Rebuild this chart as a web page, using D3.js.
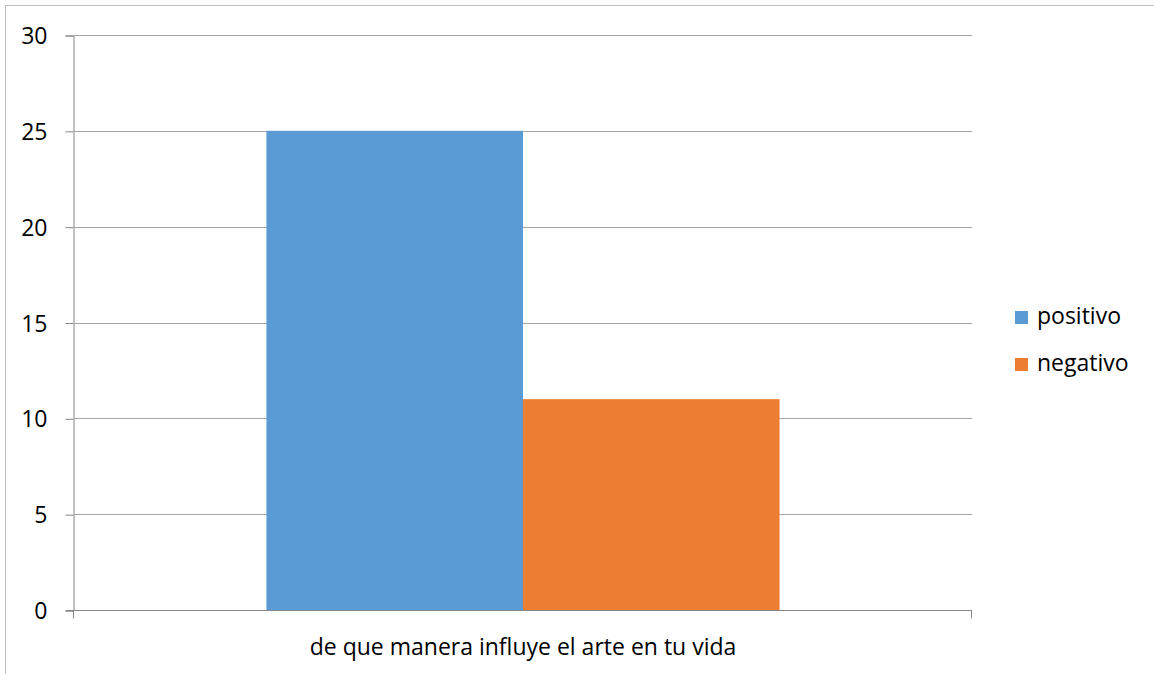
<!DOCTYPE html>
<html>
<head>
<meta charset="utf-8">
<script src="https://cdn.jsdelivr.net/npm/d3@7"></script>
<style>
	body { margin: 0; background: #fff; }
	svg text { font-family: "Open Sans", "Noto Sans", sans-serif; fill: #000; }
</style>
</head>
<body>
<svg id="chart" width="1154" height="674"></svg>
<script>
var categories = ["de que manera influye el arte en tu vida"];
var series = ["positivo", "negativo"];
var values = [[25], [11]];
var colors = ["#5b9bd5", "#ed7d31"];
var y_ticks = [0, 5, 10, 15, 20, 25, 30];

var svg = d3.select("#chart");
var plot_left = 74, plot_right = 972, plot_top = 35, plot_bottom = 610;

// outer chart border (runs off the page on right and bottom)
svg.append("rect")
	.attr("x", 5.5).attr("y", 5.5)
	.attr("width", 1200).attr("height", 700)
	.attr("fill", "none")
	.attr("stroke", "#bfbfbf");

var y = d3.scaleLinear().domain([0, 30]).range([plot_bottom, plot_top]);
var x0 = d3.scaleBand().domain(categories).range([plot_left, plot_right]).padding(0);
// excel gap width 150% -> 0.75 bar on each side
var x1 = d3.scaleBand().domain(series).range([0, x0.bandwidth()]).paddingInner(0).paddingOuter(0.75);

//gridlines
svg.append("g")
	.selectAll("line")
	.data(y_ticks.filter(function(d){ return d > 0; }))
	.enter().append("line")
	.attr("x1", plot_left).attr("x2", plot_right)
	.attr("y1", function(d){ return Math.round(y(d)) + 0.5; })
	.attr("y2", function(d){ return Math.round(y(d)) + 0.5; })
	.attr("stroke", "#a6a6a6");

// bars
series.forEach(function(s, i){
	svg.append("g")
		.selectAll("rect")
		.data(values[i])
		.enter().append("rect")
		.attr("x", function(d, j){ return x0(categories[j]) + x1(s); })
		.attr("y", function(d){ return y(d); })
		.attr("width", x1.bandwidth())
		.attr("height", function(d){ return y(0) - y(d); })
		.attr("fill", colors[i]);
});

// y axis
var yAxis = d3.axisLeft(y).tickValues(y_ticks).tickSize(8).tickPadding(18);
var gy = svg.append("g")
	.attr("transform", "translate(" + (plot_left - 0.5) + ",0.5)")
	.call(yAxis);
gy.select(".domain").attr("stroke", "#868686");
gy.selectAll(".tick line").attr("stroke", "#868686");
gy.selectAll(".tick text")
	.style("font-size", "23px")
	.attr("dy", "0.35em");

// x axis
var gx = svg.append("g")
	.attr("transform", "translate(0," + (plot_bottom + 0.5) + ")");
gx.append("line")
	.attr("x1", plot_left - 8).attr("x2", plot_right)
	.attr("stroke", "#868686");
gx.selectAll(".edge")
	.data([plot_left, plot_right])
	.enter().append("line")
	.attr("class", "edge")
	.attr("x1", function(d){ return d - 0.5; }).attr("x2", function(d){ return d - 0.5; })
	.attr("y1", 0).attr("y2", 8)
	.attr("stroke", "#868686");
gx.selectAll("text")
	.data(categories)
	.enter().append("text")
	.attr("x", function(d){ return x0(d) + x0.bandwidth() / 2; })
	.attr("y", 44)
	.attr("text-anchor", "middle")
	.style("font-size", "23px")
	.text(function(d){ return d; });

// legend
var legend = svg.append("g")
	.selectAll("g")
	.data(series)
	.enter().append("g")
	.attr("transform", function(d, i){ return "translate(1015," + (311 + i * 47) + ")"; });
legend.append("rect")
	.attr("width", 13).attr("height", 13)
	.attr("fill", function(d, i){ return colors[i]; });
legend.append("text")
	.attr("x", 22).attr("y", 13)
	.style("font-size", "23px")
	.text(function(d){ return d; });
</script>
</body>
</html>
